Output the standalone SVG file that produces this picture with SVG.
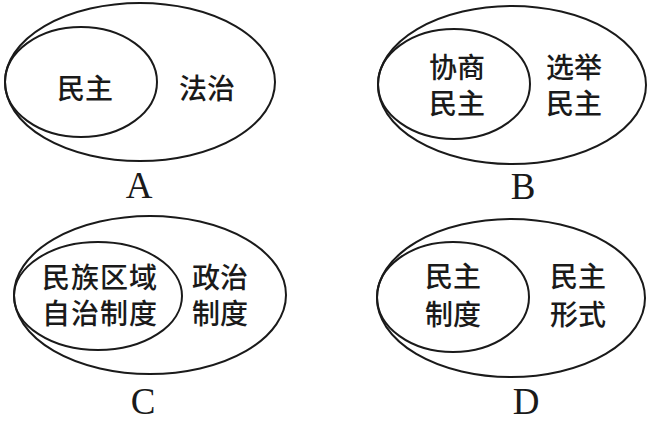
<svg xmlns="http://www.w3.org/2000/svg" width="653" height="422" viewBox="0 0 653 422">
<style>
.e{fill:none;stroke:#1a1a1a;stroke-width:2}
.t{font-family:"Noto Sans CJK SC","Noto Sans",sans-serif;font-size:28px;font-weight:500;fill:#1a1a1a;text-anchor:middle;dominant-baseline:central}
.l{font-family:"Liberation Serif",serif;font-size:37px;fill:#1a1a1a;text-anchor:middle}
</style>
<rect width="653" height="422" fill="#fff"/>
<g id="diagramA">
<ellipse class="e" cx="140" cy="82" rx="135" ry="79"/>
<ellipse class="e" cx="81" cy="82" rx="76" ry="55"/>
<text class="t" x="85" y="87">民主</text>
<text class="t" x="207" y="87">法治</text>
<text class="l" x="139" y="198">A</text>
</g>
<g id="diagramB">
<ellipse class="e" cx="512" cy="85" rx="134" ry="79"/>
<ellipse class="e" cx="454" cy="84" rx="76" ry="55"/>
<text class="t" x="457" y="66">协商</text>
<text class="t" x="457" y="102">民主</text>
<text class="t" x="574" y="66">选举</text>
<text class="t" x="574" y="102">民主</text>
<text class="l" x="523" y="199">B</text>
</g>
<g id="diagramC">
<ellipse class="e" cx="150" cy="295" rx="136" ry="79"/>
<ellipse class="e" cx="98" cy="296" rx="84" ry="54"/>
<text class="t" x="100" y="276" letter-spacing="1">民族区域</text>
<text class="t" x="100" y="312" letter-spacing="1">自治制度</text>
<text class="t" x="220" y="276">政治</text>
<text class="t" x="220" y="312">制度</text>
<text class="l" x="143" y="414">C</text>
</g>
<g id="diagramD">
<ellipse class="e" cx="511" cy="298" rx="134" ry="79"/>
<ellipse class="e" cx="453" cy="297" rx="76" ry="55"/>
<text class="t" x="453" y="275">民主</text>
<text class="t" x="453" y="313">制度</text>
<text class="t" x="578" y="275">民主</text>
<text class="t" x="578" y="313">形式</text>
<text class="l" x="526" y="414">D</text>
</g>
<g id="connectors"></g>
</svg>
